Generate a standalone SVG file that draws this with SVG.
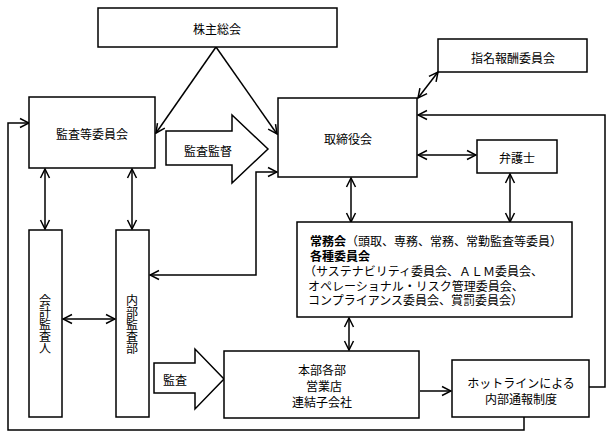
<svg xmlns="http://www.w3.org/2000/svg" width="612" height="438" viewBox="0 0 612 438">
<style>
.box{fill:#fff;stroke:#000;stroke-width:1.5}
.blk{fill:#fff;stroke:#000;stroke-width:1.5;stroke-linejoin:miter}
.ln{fill:none;stroke:#000;stroke-width:1.5}
text{font-family:"Noto Sans CJK JP","Liberation Sans",sans-serif;font-size:12px;fill:#000;dominant-baseline:central}
.c{text-anchor:middle}
.g{font-family:"Liberation Sans","Noto Sans CJK JP",sans-serif}
.b{font-weight:bold}
.m{font-family:"Liberation Serif","Noto Sans CJK JP",serif}
.v{writing-mode:vertical-rl;text-anchor:middle}
</style>
<defs>
<marker id="a" viewBox="-11 -6 12 12" refX="0" refY="0" markerWidth="12" markerHeight="12" markerUnits="userSpaceOnUse" orient="auto-start-reverse">
<path d="M-9,-4.5 L0,0 L-9,4.5" fill="none" stroke="#000" stroke-width="1.5"/>
</marker>
</defs>
<rect width="612" height="438" fill="#fff"/>

<g id="connectors">
<path class="ln" d="M216,47 L156,133" marker-end="url(#a)"/>
<path class="ln" d="M216,47 L277,134" marker-end="url(#a)"/>
<path class="ln" d="M438,72 L418,98" marker-start="url(#a)" marker-end="url(#a)"/>
<path class="ln" d="M589,387 L605,387 L605,115 L418,115" marker-end="url(#a)"/>
<path class="ln" d="M524,417 L524,430 L8,430 L8,123 L29,123" marker-end="url(#a)"/>
<path class="ln" d="M150,275 L256,275 L256,172 L277,172" marker-start="url(#a)" marker-end="url(#a)"/>
<path class="ln" d="M45,169 L45,229" marker-start="url(#a)" marker-end="url(#a)"/>
<path class="ln" d="M132,169 L132,229" marker-start="url(#a)" marker-end="url(#a)"/>
<path class="ln" d="M63,319 L115,319" marker-start="url(#a)" marker-end="url(#a)"/>
<path class="ln" d="M418,155 L476,155" marker-start="url(#a)" marker-end="url(#a)"/>
<path class="ln" d="M351,178 L351,222" marker-start="url(#a)" marker-end="url(#a)"/>
<path class="ln" d="M510,174 L510,222" marker-start="url(#a)" marker-end="url(#a)"/>
<path class="ln" d="M349,318 L349,350" marker-start="url(#a)" marker-end="url(#a)"/>
<path class="ln" d="M420,391 L451,391" marker-end="url(#a)"/>
</g>

<g id="kabunushi">
<rect class="box" x="98" y="8" width="239" height="39"/>
<text class="c" x="217" y="28">株主総会</text>
</g>
<g id="kansatou">
<rect class="box" x="29" y="97" width="126" height="71"/>
<text class="c" x="92" y="133">監査等委員会</text>
</g>
<g id="kansakantoku">
<polygon class="blk" points="166,131 232,131 232,115 268,149 232,183 232,165 166,165"/>
<text class="c" x="208" y="150">監査監督</text>
</g>
<g id="torishimari">
<rect class="box" x="278" y="98" width="139" height="79"/>
<text class="c" x="348" y="138">取締役会</text>
</g>
<g id="shimei">
<rect class="box" x="438" y="39" width="149" height="33"/>
<text class="c" x="513" y="57">指名報酬委員会</text>
</g>
<g id="bengoshi">
<rect class="box" x="477" y="140" width="80" height="33"/>
<text class="c" x="517" y="157">弁護士</text>
</g>
<g id="joumukai">
<rect class="box" x="297" y="222" width="275" height="95"/>
<text class="g" x="310" y="242"><tspan class="b">常務会</tspan><tspan class="m">（頭取、専務、常務、常勤監査等委員）</tspan></text>
<text class="g b" x="310" y="257">各種委員会</text>
<text class="m" x="304" y="272">（サステナビリティ委員会、ＡＬＭ委員会、</text>
<text class="m" x="308" y="287">オペレーショナル・リスク管理委員会、</text>
<text class="m" x="308" y="301">コンプライアンス委員会、賞罰委員会）</text>
</g>
<g id="kaikei">
<rect class="box" x="29" y="230" width="33" height="187"/>
<text class="v" x="45" y="324">会計監査人</text>
</g>
<g id="naibu">
<rect class="box" x="116" y="230" width="33" height="187"/>
<text class="v" x="132" y="324">内部監査部</text>
</g>
<g id="kansa">
<polygon class="blk" points="154,363 195,363 195,349 224,379 195,409 195,393 154,393"/>
<text class="c" x="175" y="379">監査</text>
</g>
<g id="honbu">
<rect class="box" x="224" y="351" width="195" height="67"/>
<text class="c" x="322" y="369">本部各部</text>
<text class="c" x="324" y="385">営業店</text>
<text class="c" x="322" y="401">連結子会社</text>
</g>
<g id="hotline">
<rect class="box" x="452" y="360" width="137" height="57"/>
<text class="c" x="521" y="382">ホットラインによる</text>
<text class="c" x="521" y="398">内部通報制度</text>
</g>
</svg>
